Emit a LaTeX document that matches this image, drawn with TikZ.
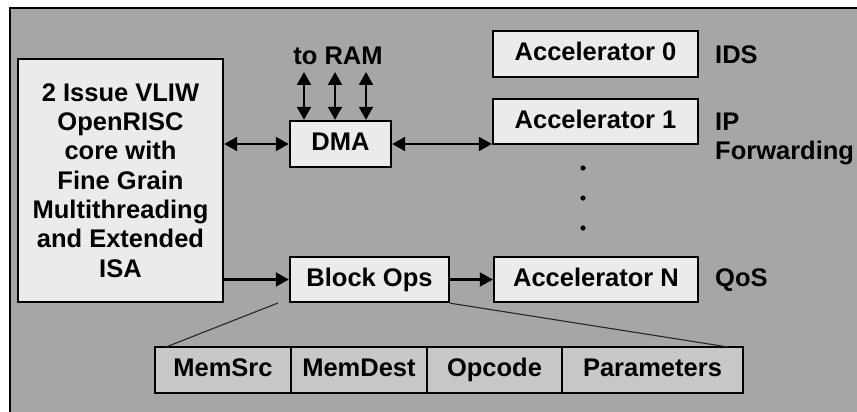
\documentclass[tikz,border=0pt]{standalone}
\usepackage{fontspec}
\setmainfont{Liberation Sans}
\usetikzlibrary{arrows.meta}
\definecolor{bggray}{HTML}{A6A6A6}
\definecolor{boxfill}{HTML}{EBEBEB}
\definecolor{fieldfill}{HTML}{C8C8C8}
\begin{document}
\begin{tikzpicture}[x=1pt,y=-1pt,
  every node/.style={font=\fontsize{25.5}{29.3}\selectfont\bfseries},
  blk/.style={draw=black,line width=2.4pt,fill=boxfill,inner sep=0pt,minimum height=46pt,anchor=center,text height=18.5pt,text depth=5pt},
  fld/.style={draw=black,line width=2.4pt,fill=fieldfill,inner sep=0pt,minimum height=46pt,anchor=center,text height=18.5pt,text depth=5pt},
  lbl/.style={inner sep=0pt,anchor=west,align=left},
  conn/.style={line width=2.2pt,-{Triangle[length=13pt,width=14pt]}},
  dconn/.style={line width=2.2pt,{Triangle[length=13pt,width=14pt]}-{Triangle[length=13pt,width=14pt]}},
  thin/.style={line width=1.1pt,draw=black!85}
]
\useasboundingbox (0,0) rectangle (857,412);
\fill[bggray] (10,8) rectangle (870,420);
\draw[line width=2.5pt] (10,420) -- (10,8) -- (870,8);

% core
\node[draw=black,line width=2.4pt,fill=boxfill,inner sep=0pt,minimum width=205pt,minimum height=243pt,align=center] (core) at (120.5,180.5)
  {2 Issue VLIW\\OpenRISC\\core with\\Fine Grain\\Multithreading\\and Extended\\ISA};

\node[blk,minimum width=101pt] (dma) at (340.5,144) {DMA};
\node[inner sep=0pt] (ram) at (338,56) {to RAM};

\node[blk,minimum width=205pt] (acc0) at (595.5,54) {Accelerator 0};
\node[blk,minimum width=205pt,minimum height=45pt] (acc1) at (595.5,121.5) {Accelerator 1};
\node[blk,minimum width=204pt,minimum height=45pt] (accn) at (596,279.5) {Accelerator N};
\node[blk,minimum width=159pt,minimum height=45pt] (bops) at (369.5,279.5) {Block Ops};

\node[lbl] (ids) at (715,55) {IDS};
\node[lbl] (ipf) at (715,139) {IP\\Forwarding};
\node[lbl] (qos) at (715,280) {QoS};

\fill (583,168) circle (2.6pt) (583,198) circle (2.6pt) (583,228) circle (2.6pt);

% fields
\node[fld,minimum width=136pt] (msrc) at (223,370) {MemSrc};
\node[fld,minimum width=136pt] (mdst) at (359,370) {MemDest};
\node[fld,minimum width=135pt] (opc) at (494.5,370) {Opcode};
\node[fld,minimum width=181pt] (par) at (652.5,370) {Parameters};

% RAM arrows
\coordinate (r1) at (304,72);
\coordinate (r2) at (335,72);
\coordinate (r3) at (366,72);
\draw[dconn] (r1) -- (r1 |- dma.north);
\draw[dconn] (r2) -- (r2 |- dma.north);
\draw[dconn] (r3) -- (r3 |- dma.north);

\draw[dconn] (dma.west -| core.east) -- (dma.west);
\draw[dconn] (dma.east) -- (dma.east -| acc1.west);
\draw[conn] (bops.west -| core.east) -- (bops.west);
\draw[conn] (bops.east) -- (accn.west);

% expansion lines
\coordinate (la) at (278,303);
\coordinate (lb) at (166,347);
\coordinate (rb) at (728,347);
\draw[thin] (la) -- (lb);
\draw[thin] (bops.south east) -- (rb);
\end{tikzpicture}
\end{document}
